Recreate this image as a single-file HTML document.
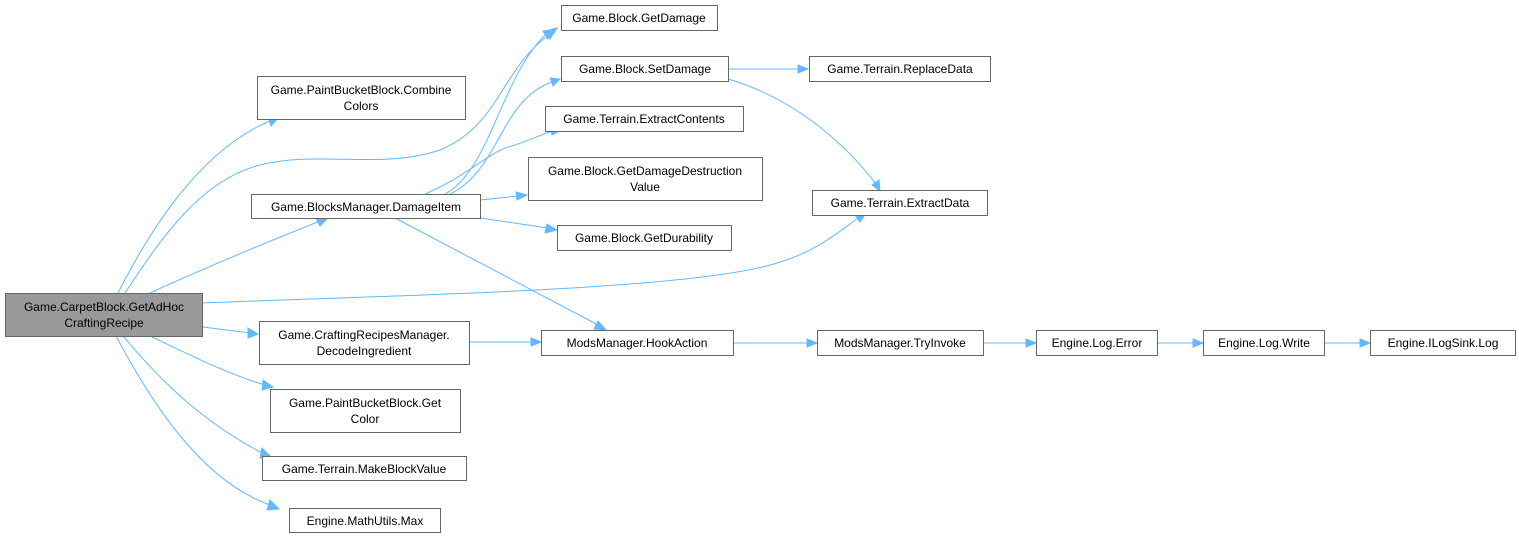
<!DOCTYPE html>
<html><head><meta charset="utf-8"><style>
html,body{margin:0;padding:0;background:#fff;}
svg{display:block;}
text{font-family:"Liberation Sans",Arial,sans-serif;font-size:12px;fill:#000;text-anchor:middle;}
rect{fill:#fff;stroke:#666;stroke-width:1;}
path{fill:none;stroke:#63b8ff;stroke-width:1;}
polygon{fill:#63b8ff;stroke:#63b8ff;}
</style></head><body>
<svg width="1519" height="539" viewBox="0 0 1519 539">
<!-- edges -->
<path d="M118,293 C150,230 200,150 270,121"/><polygon points="268,117 279,117 271,126"/>
<path d="M125,293 C160,240 200,180 260,165 C320,150 380,170 440,150 C500,125 500,70 550,34"/><polygon points="546,31 557,28 550,39"/>
<path d="M150,293 C200,270 260,245 320,221"/><polygon points="316,218 328,218 320,226"/>
<path d="M203,303 C400,295 700,290 780,262 C820,250 840,230 860,217"/><polygon points="855,215 866,213 860,222"/>
<path d="M203,327 L250,333"/><polygon points="248,328 258,334 248,338"/>
<path d="M150,336 C190,355 230,375 265,385"/><polygon points="263,380 273,387 262,390"/>
<path d="M123,336 C160,380 200,420 262,453"/><polygon points="262,448 271,457 260,458"/>
<path d="M116,336 C150,400 200,480 270,505"/><polygon points="270,500 279,509 267,510"/>
<path d="M445,194 C490,170 500,80 545,35"/><polygon points="543,31 552,30 548,39"/>
<path d="M450,194 C500,170 500,100 552,82"/><polygon points="550,78 560,79 553,86"/>
<path d="M425,194 C470,175 490,150 515,145 C530,140 545,133 553,131"/><polygon points="550,127 561,130 552,135"/>
<path d="M480,200 L518,196"/><polygon points="516,192 527,195 517,200"/>
<path d="M480,218 L548,228"/><polygon points="547,224 557,230 545,233"/>
<path d="M395,218 L600,326"/><polygon points="598,321 606,330 594,329"/>
<path d="M469,342 L531,342"/><polygon points="531,338 541,342 531,346"/>
<path d="M728,69 L798,69"/><polygon points="798,65 808,69 798,73"/>
<path d="M728,79 C800,100 850,150 876,184"/><polygon points="872,185 880,191 879,180"/>
<path d="M733,343 L807,343"/><polygon points="807,339 817,343 807,347"/>
<path d="M983,343 L1026,343"/><polygon points="1026,339 1036,343 1026,347"/>
<path d="M1157,343 L1193,343"/><polygon points="1193,339 1203,343 1193,347"/>
<path d="M1324,343 L1360,343"/><polygon points="1360,339 1370,343 1360,347"/>
<!-- nodes -->
<rect x="5.5" y="293.5" width="197" height="43" style="fill:#999"/>
<text x="104" y="311">Game.CarpetBlock.GetAdHoc</text><text x="104" y="327">CraftingRecipe</text>
<rect x="257.5" y="76.5" width="208" height="43"/>
<text x="361" y="94">Game.PaintBucketBlock.Combine</text><text x="361" y="110">Colors</text>
<rect x="251.5" y="194.5" width="229" height="24"/><text x="366" y="211">Game.BlocksManager.DamageItem</text>
<rect x="259.5" y="321.5" width="210" height="43"/>
<text x="364" y="339">Game.CraftingRecipesManager.</text><text x="364" y="355">DecodeIngredient</text>
<rect x="270.5" y="389.5" width="190" height="43"/>
<text x="365" y="407">Game.PaintBucketBlock.Get</text><text x="365" y="423">Color</text>
<rect x="262.5" y="456.5" width="204" height="24"/><text x="364" y="473">Game.Terrain.MakeBlockValue</text>
<rect x="289.5" y="508.5" width="151" height="24"/><text x="365" y="525">Engine.MathUtils.Max</text>
<rect x="561.5" y="5.5" width="156" height="25"/><text x="639" y="22">Game.Block.GetDamage</text>
<rect x="561.5" y="56.5" width="167" height="25"/><text x="645" y="73">Game.Block.SetDamage</text>
<rect x="545.5" y="106.5" width="198" height="25"/><text x="644" y="123">Game.Terrain.ExtractContents</text>
<rect x="528.5" y="157.5" width="234" height="43"/>
<text x="645" y="175">Game.Block.GetDamageDestruction</text><text x="645" y="191">Value</text>
<rect x="557.5" y="225.5" width="174" height="25"/><text x="644" y="242">Game.Block.GetDurability</text>
<rect x="809.5" y="56.5" width="181" height="25"/><text x="900" y="73">Game.Terrain.ReplaceData</text>
<rect x="812.5" y="190.5" width="175" height="25"/><text x="900" y="207">Game.Terrain.ExtractData</text>
<rect x="541.5" y="330.5" width="192" height="25"/><text x="637" y="347">ModsManager.HookAction</text>
<rect x="817.5" y="330.5" width="166" height="25"/><text x="900" y="347">ModsManager.TryInvoke</text>
<rect x="1036.5" y="330.5" width="121" height="25"/><text x="1097" y="347">Engine.Log.Error</text>
<rect x="1203.5" y="330.5" width="121" height="25"/><text x="1264" y="347">Engine.Log.Write</text>
<rect x="1370.5" y="330.5" width="145" height="25"/><text x="1443" y="347">Engine.ILogSink.Log</text>
</svg>
</body></html>
